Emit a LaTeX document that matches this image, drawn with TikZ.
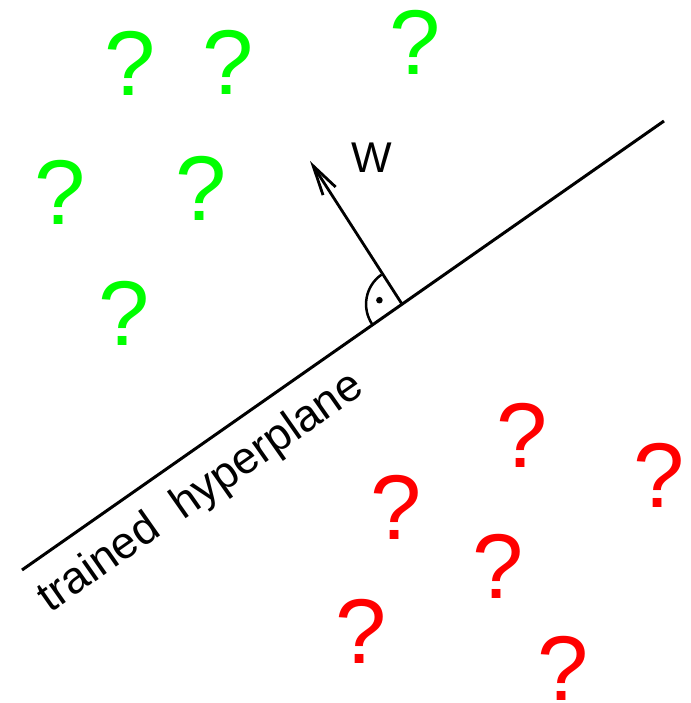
\documentclass[tikz,border=0pt]{standalone}
\usepackage{fontspec}
\setmainfont{Liberation Sans}
\usepackage{xcolor}
\usepackage{tikz}
\usetikzlibrary{arrows.meta,positioning,calc}

\definecolor{posgreen}{RGB}{0,255,0}
\definecolor{negred}{RGB}{255,0,0}

\begin{document}
\begin{tikzpicture}[
      x=1pt, y=1pt,
      query/.style={inner sep=0pt, font=\fontsize{92}{92}\selectfont},
      posq/.style={query, text=posgreen},
      negq/.style={query, text=negred},
      plane/.style={line width=3pt},
      >={Straight Barb[length=30pt, width=15pt]}]

    \useasboundingbox (0,0) rectangle (690,703);

    % separating line and its normal
    \coordinate (hpA) at (22,133);
    \coordinate (hpB) at (664,582);
    \draw[plane] (hpA) -- (hpB);
    \coordinate (foot) at ($(hpA)!0.592!(hpB)$);
    \coordinate (wtip) at (310,542);
    \draw[->, line width=2.8pt] (foot) -- (wtip);
    \node[inner sep=0pt, font=\fontsize{43}{43}\selectfont] (wlabel) at (372,545) {W};

    % right angle mark
    \draw[line width=2.5pt] ($(foot)+(125:36)$) arc[start angle=125, end angle=215, radius=36];
    \fill ($(foot)+(170:23)$) circle[radius=3.3];

    \node[rotate=35, anchor=base, inner sep=0pt, font=\fontsize{45}{45}\selectfont]
      (hplabel) at (208,200) {trained\ \ hyperplane};

    % one side
    \node[posq] (g1) at (130,640) {?};
    \node[posq] (g2) at (228,641) {?};
    \node[posq] (g3) at (415,661) {?};
    \node[posq] (g4) at (60,511) {?};
    \node[posq] (g5) at (201,515) {?};
    \node[posq] (g6) at (124,390) {?};

    % other side
    \node[negq] (r1) at (522,268) {?};
    \node[negq] (r2) at (659,228) {?};
    \node[negq] (r3) at (396,196) {?};
    \node[negq] (r4) at (498,137) {?};
    \node[negq] (r5) at (361,72) {?};
    \node[negq] (r6) at (563,35) {?};
  \end{tikzpicture}
\end{document}
